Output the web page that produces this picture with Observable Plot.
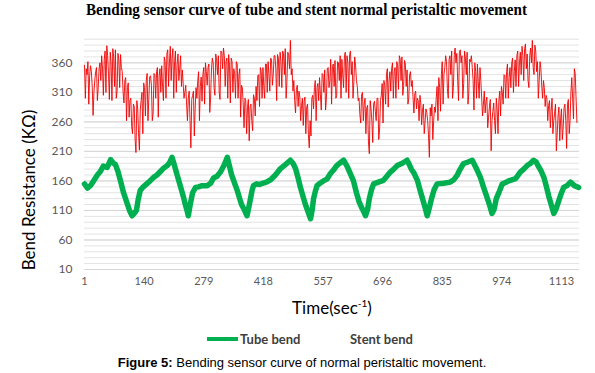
<!DOCTYPE html>
<html><head><meta charset="utf-8">
<script src="https://cdn.jsdelivr.net/npm/d3@7"></script>
<script src="https://cdn.jsdelivr.net/npm/@observablehq/plot@0.6"></script>
<style>
body{margin:0;background:#fff;}
#wrap{position:relative;width:595px;height:373px;overflow:hidden;font-family:Lato,"Open Sans",sans-serif;}
#chart{position:absolute;left:0;top:0;}
#title{position:absolute;left:0;top:1px;width:595px;text-align:left;white-space:nowrap;}
#title span{display:inline-block;font-family:"Liberation Serif","Times New Roman",serif;font-weight:bold;font-size:16px;line-height:18px;color:#000;transform-origin:0 0;position:absolute;left:86px;}
#ylab{position:absolute;left:28px;top:190px;transform:translate(-50%,-50%) rotate(-90deg);white-space:nowrap;font-size:17px;color:#000;}
#xlab{position:absolute;left:332px;top:307px;transform:translate(-50%,-50%);white-space:nowrap;font-size:17px;color:#000;}
#xlab sup{font-size:10px;vertical-align:7px;line-height:0;}
.leg{position:absolute;top:339px;transform:translateY(-50%);white-space:nowrap;font-size:13px;font-weight:bold;color:#404040;}
#sw{position:absolute;left:207px;top:337px;width:31px;height:4px;background:#00b050;}
#cap{position:absolute;left:302px;top:362px;transform:translate(-50%,-50%);white-space:nowrap;font-family:"Liberation Sans",Arial,sans-serif;font-size:13px;color:#000;}
</style></head><body>
<div id="wrap">
  <div id="chart"></div>
  <div id="title"><span>Bending sensor curve of tube and stent normal peristaltic movement</span></div>
  <div id="ylab">Bend Resistance (KΩ)</div>
  <div id="xlab">Time(sec<sup>-1</sup>)</div>
  <div id="sw"></div>
  <div class="leg" style="left:240px">Tube bend</div>
  <div class="leg" style="left:350px">Stent bend</div>
  <div id="cap"><b>Figure 5:</b> Bending sensor curve of normal peristaltic movement.</div>
</div>
<script>
// x-axis tick labels (sample index) and y-axis tick labels
const xTicks = [1, 140, 279, 418, 557, 696, 835, 974, 1113];
const yTicks = [10, 60, 110, 160, 210, 260, 310, 360];
const gridLines = [10,20,30,40,50,60,70,80,90,100,110,120,130,140,150,160,170,180,190,200,210,220,230,240,250,260,270,280,290,300,310,320,330,340,350,360,370,380,390,400];

// Tube bend (green): sample index and resistance (KΩ)
const tubeTime = [1,8,15,22,31,38,45,54,62,68,73,79,85,92,99,106,112,117,122,126,131,138,146,154,162,170,178,186,194,200,205,210,215,221,227,232,236,240,243,248,253,260,267,275,287,295,302,310,318,326,334,339,344,351,357,362,367,373,380,384,388,392,395,402,409,416,425,435,446,458,470,481,487,493,499,504,510,516,522,528,532,535,539,543,550,558,566,574,581,588,596,605,613,621,628,635,641,647,652,656,661,665,670,675,686,698,706,714,722,730,742,753,758,763,770,777,783,789,795,800,805,810,816,823,838,854,862,870,877,884,895,905,914,924,931,938,945,951,956,961,968,975,990,1006,1012,1017,1025,1033,1041,1048,1054,1059,1066,1072,1078,1083,1089,1095,1100,1106,1112,1118,1126,1134,1143,1153];
const tubeValue = [155,148,152,160,170,176,185,183,196,190,188,176,160,140,125,110,101,105,110,128,144,150,155,160,166,170,176,182,186,192,200,188,175,160,145,132,120,110,101,122,140,149,150,152,152,156,165,168,175,186,200,185,170,156,144,132,120,112,101,115,130,145,152,155,154,156,158,162,170,181,188,195,190,181,165,150,135,120,108,96,112,130,142,152,156,160,163,172,178,185,190,195,185,172,160,140,125,115,108,101,112,130,145,155,158,161,168,175,180,186,190,195,188,180,172,161,145,130,115,101,115,130,145,155,156,158,162,170,180,189,192,195,182,166,150,135,120,105,112,130,142,155,160,164,170,175,180,186,190,195,192,185,176,166,150,135,120,105,112,125,138,149,152,158,152,149];

// Stent bend (red): readings at samples 1, 5, 9, ... (every 4 samples)
const stentValue = [
356,350,362,338,345,271,330,352,318,360,
372,305,380,389,340,378,296,370,382,312,365,374,
345,292,335,318,268,300,240,286,208,282,212,
296,240,318,330,262,336,322,275,340,345,268,350,
355,296,362,375,320,388,368,300,380,358,330,372,
348,300,322,262,312,216,305,236,318,
330,262,336,340,290,345,352,276,348,360,305,365,372,298,378,385,320,368,374,292,362,350,300,358,340,268,
318,250,296,284,228,290,245,300,
320,338,286,345,352,300,358,362,312,366,340,372,296,368,378,318,375,384,330,372,398,
350,330,275,322,312,262,300,295,240,290,216,
236,305,318,262,325,335,280,340,348,300,352,330,290,358,364,305,360,372,
366,318,378,372,300,380,362,328,355,
320,300,258,310,290,240,288,206,282,225,295,262,300,248,
305,258,322,340,285,345,350,300,352,362,315,366,370,320,358,348,300,345,
330,275,312,300,262,292,280,240,282,262,200,270,230,285,
300,262,318,340,290,352,362,300,372,380,318,385,376,296,382,372,325,368,378,310,362,352,280,345,358,300,
330,270,312,295,250,285,211,278,262,300,240,312,
320,290,338,345,300,352,360,310,365,372,320,378,388,330,392,375,318,385,398,340,380,362,330,
350,300,318,305,262,296,280,240,275,211,270,228,282,250,290,215,298,262,
335,265,342,259
];
// Stent bend (red): in-between readings at samples 3, 7, 11, ...
const stentMid = [
300,340,290,355,320,310,345,296,350,330,
350,365,310,372,298,360,384,320,300,376,318,352,
310,330,262,326,296,252,290,230,296,240,280,
310,326,270,342,300,338,262,342,300,352,338,310,
320,370,300,382,360,330,384,362,310,375,350,320,
325,310,290,300,262,298,312,282,300,
345,320,295,352,360,322,358,300,368,318,375,340,310,380,350,372,362,300,356,368,310,342,362,300,350,322,
290,300,240,298,286,262,306,270,
296,340,352,300,320,358,310,340,368,322,372,350,374,320,362,380,340,300,378,350,340,
312,296,315,286,302,288,254,302,285,238,262,
300,282,330,318,296,306,342,310,280,350,318,366,354,320,300,362,330,300,
340,372,310,360,374,340,300,370,330,
296,272,306,262,300,284,226,296,260,290,278,300,230,296,
325,330,290,350,330,312,360,345,300,356,372,330,305,364,320,290,340,320,
300,308,282,296,305,255,290,260,276,238,284,290,262,276,
320,335,278,362,340,372,316,366,340,300,372,360,330,378,360,300,380,340,290,366,372,330,360,300,328,352,
300,290,275,302,268,298,262,292,240,282,296,270,
310,340,300,358,335,318,368,345,320,380,360,340,372,384,350,330,372,360,352,390,345,300,362,
320,330,286,300,288,250,300,262,290,240,285,265,230,284,262,290,240,310,
300,350,300
];
const stentStep = 4;

const tube = tubeTime.map((t, i) => ({t, v: tubeValue[i]}));
const stent = [];
stentValue.forEach((v, i) => {
  stent.push({t: 1 + i * stentStep, v});
  if (i < stentMid.length) stent.push({t: 3 + i * stentStep, v: stentMid[i]});
});

const chart = Plot.plot({
  width: 595,
  height: 330,
  marginLeft: 84,
  marginRight: 16,
  marginTop: 38.7,
  marginBottom: 61,
  style: {fontFamily: "Lato, 'Open Sans', sans-serif", background: "transparent"},
  x: {domain: [1, 1155], axis: null},
  y: {domain: [10, 400], axis: null},
  marks: [
    Plot.ruleY(gridLines, {stroke: "#e3e3e3", strokeWidth: 1}),
    Plot.ruleY(yTicks, {stroke: "#d6d6d6", strokeWidth: 1}),
    Plot.axisY(yTicks, {tickSize: 0, tickPadding: 12, fontSize: 12, fill: "#595959", label: null}),
    Plot.axisX(xTicks, {tickSize: 0, tickPadding: 8, fontSize: 11, fill: "#595959", label: null, tickFormat: d => String(d)}),
    Plot.line(stent, {x: "t", y: "v", stroke: "#f00000", strokeWidth: 0.9, strokeOpacity: 1}),
    Plot.line(tube, {x: "t", y: "v", stroke: "#00b050", strokeWidth: 5.5, strokeLinejoin: "round"})
  ]
});
document.getElementById("chart").appendChild(chart);

// fit title width to reference span
const ts = document.querySelector("#title span");
const w = ts.getBoundingClientRect().width;
ts.style.transform = `scaleX(${441 / w})`;
</script>
</body></html>
